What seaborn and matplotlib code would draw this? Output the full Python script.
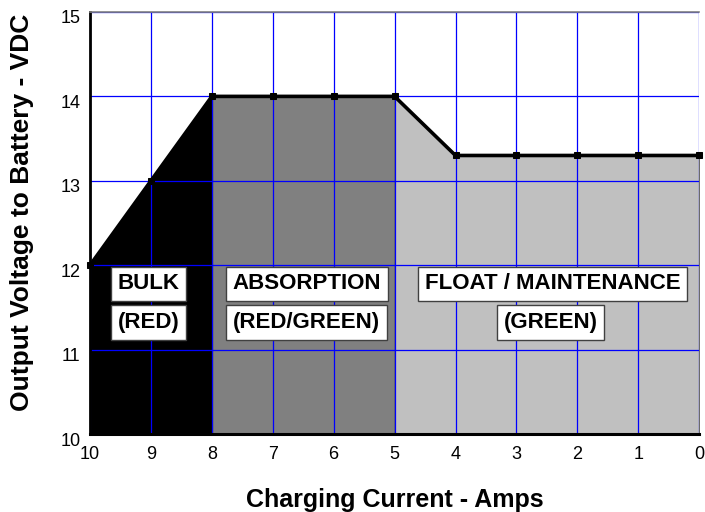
import numpy as np
import pandas as pd
import matplotlib
matplotlib.use("Agg")
import matplotlib.pyplot as plt
import matplotlib.transforms as mtrans
import seaborn as sns
from matplotlib.ticker import MultipleLocator

# ---- data ----
current = [10, 9, 8, 7, 6, 5, 4, 3, 2, 1, 0]
voltage = [12.0, 13.0, 14.0, 14.0, 14.0, 14.0, 13.3, 13.3, 13.3, 13.3, 13.3]
phase_names = ["BULK", "ABSORPTION", "FLOAT / MAINTENANCE"]
phase_leds = ["(RED)", "(RED/GREEN)", "(GREEN)"]
phase_bounds = [(0, 2), (2, 5), (5, 10)]   # index ranges into current/voltage
phase_colors = ["#000000", "#808080", "#c0c0c0"]
phase_edges = ["#000000", "#000000", "#606060"]
phase_label_x = [9.04, 6.44, 2.40]
phase_led_x = [9.04, 6.445, 2.44]

sns.set_style("white")
plt.rcParams["font.family"] = ["Liberation Sans", "DejaVu Sans"]
plt.rcParams["text.color"] = "black"
plt.rcParams["axes.labelcolor"] = "black"
plt.rcParams["xtick.color"] = "black"
plt.rcParams["ytick.color"] = "black"

fig = plt.figure(figsize=(7.05, 5.12), dpi=100)
ax = fig.add_axes([0.1277, 0.1523, 0.864, 0.8243])

df = pd.DataFrame({"current": current, "voltage": voltage})

for (i0, i1), col, ec in zip(phase_bounds, phase_colors, phase_edges):
    xs = current[i0:i1 + 1]
    ys = voltage[i0:i1 + 1]
    ax.fill_between(xs, ys, 10, color=col, edgecolor=ec, linewidth=0.8, zorder=1)

sns.lineplot(data=df, x="current", y="voltage", ax=ax, color="black", linewidth=2.6,
             marker="s", markersize=4.8, markeredgecolor="black", zorder=4, clip_on=False)

ax.set_xlim(10, 0)
ax.set_ylim(10, 15)
ax.xaxis.set_major_locator(MultipleLocator(1))
ax.xaxis.set_minor_locator(MultipleLocator(0.25))
ax.yaxis.set_major_locator(MultipleLocator(1))
ax.yaxis.set_minor_locator(MultipleLocator(0.5))

ax.set_axisbelow(False)
ax.grid(True, which="major", color="#0000ff", linewidth=0.9, zorder=2.5)

ax.tick_params(axis="both", which="major", direction="in", length=5, width=1.2,
               labelsize=13, color="black", labelcolor="black")
ax.tick_params(axis="both", which="minor", direction="in", length=3, width=1, color="black")
ax.tick_params(axis="x", pad=8.5)
ax.tick_params(axis="y", pad=7)

ax.spines["left"].set_color("black")
ax.spines["left"].set_linewidth(2.0)
ax.spines["bottom"].set_color("black")
ax.spines["bottom"].set_linewidth(2.2)
ax.spines["top"].set_color("#808080")
ax.spines["top"].set_linewidth(1.2)
ax.spines["top"].set_zorder(3)
ax.spines["left"].set_zorder(3)
ax.spines["bottom"].set_zorder(3)
ax.spines["right"].set_visible(False)

ax.set_xlabel("Charging Current - Amps", fontsize=18, fontweight="bold", labelpad=18,
              color="black")
ax.set_ylabel("Output Voltage to Battery - VDC", fontsize=19, fontweight="bold",
              color="black")
ax.yaxis.set_label_coords(-0.092, 0.526)

# y tick labels sit slightly below their ticks in the reference
offset = mtrans.ScaledTranslation(0, -5 / 100, fig.dpi_scale_trans)
for lab in ax.get_yticklabels():
    lab.set_transform(lab.get_transform() + offset)

bbox = dict(boxstyle="square,pad=0.3", facecolor="white", edgecolor="#404040", linewidth=1)
for name, led, xn, xl in zip(phase_names, phase_leds, phase_label_x, phase_led_x):
    ax.text(xn, 11.78, name, ha="center", va="center", fontsize=16, fontweight="bold",
            color="black", bbox=bbox, zorder=6)
    ax.text(xl, 11.32, led, ha="center", va="center", fontsize=16, fontweight="bold",
            color="black", bbox=bbox, zorder=6)

fig.savefig("out.png", dpi=100)
